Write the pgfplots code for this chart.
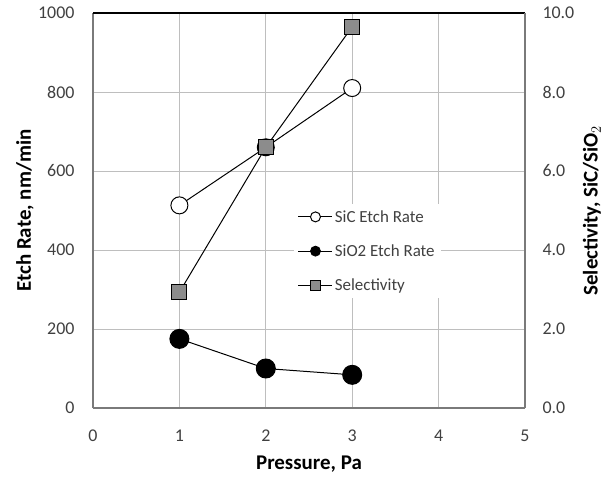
\documentclass[border=0pt]{standalone}
\usepackage{fontspec}
\setmainfont{Carlito}
\usepackage{pgfplots}
\pgfplotsset{compat=1.18}

\definecolor{tickgray}{HTML}{404040}
\definecolor{gridgray}{HTML}{BEBEBE}
\definecolor{framegray}{HTML}{7A7A7A}
\definecolor{selgray}{HTML}{8C8C8C}

\pgfplotsset{
  common/.style={
    width=432bp, height=395bp, scale only axis,
    xmin=0, xmax=5,
    /pgf/number format/assume math mode=true,
    /pgf/number format/1000 sep={},
    tick label style={font=\fontsize{18}{20}\selectfont, text=tickgray},
    label style={font=\bfseries\fontsize{21}{24}\selectfont},
    tick style={draw=none},
  },
  sic/.style={black, line width=1pt, mark=*, mark size=8.5bp, mark options={fill=white, line width=1pt}},
  sio/.style={black, line width=1pt, mark=*, mark size=9.5bp, mark options={fill=black}},
  sel/.style={black, line width=1pt, mark=square*, mark size=7.5bp, mark options={fill=selgray, line width=1pt}},
}

\begin{document}
\begin{tikzpicture}
\begin{axis}[common, name=main,
  ymin=0, ymax=1000,
  xtick={0,1,2,3,4,5}, ytick={0,200,400,600,800,1000},
  axis x line*=bottom, axis y line*=left,
  axis line style={framegray, line width=2pt, -},
  grid=major, grid style={gridgray, line width=0.8pt},
  xticklabel style={yshift=-18bp},
  yticklabel style={xshift=-15bp},
  xlabel={Pressure, Pa}, ylabel={Etch Rate, nm/min},
  xlabel style={at={(axis description cs:0.5,0)}, anchor=center, yshift=-56bp},
  ylabel style={at={(axis description cs:0,0.5)}, anchor=center, yshift=68bp},
]
\addplot[sic] coordinates {(1,513) (2,660) (3,810)};
\addplot[sio] coordinates {(1,175) (2,100) (3,84)};
\end{axis}
\begin{axis}[common,
  ymin=0, ymax=10,
  ytick={0,2,4,6,8,10},
  yticklabel style={xshift=14bp, /pgf/number format/fixed, /pgf/number format/fixed zerofill, /pgf/number format/precision=1},
  axis y line*=right, axis x line*=top,
  xtick=\empty,
  y axis line style={framegray, line width=2pt, -},
  x axis line style={black, line width=2pt, -},
  ylabel={Selectivity, SiC/SiO$_2$},
  ylabel style={at={(axis description cs:1,0.5)}, anchor=center, yshift=-67bp},
  legend style={draw=none, fill=white, at={(0.465,0.278)}, anchor=south west,
    font=\fontsize{17}{19}\selectfont, text=tickgray, row sep=17bp, inner sep=4bp},
  legend cell align=left,
  legend image code/.code={\draw[mark repeat=2, mark phase=2, mark size=5bp, line width=0.8pt] plot coordinates {(0bp,0bp) (17bp,0bp) (34bp,0bp)};},
]
\addlegendimage{sic}
\addlegendentry{SiC Etch Rate}
\addlegendimage{sio}
\addlegendentry{SiO2 Etch Rate}
\addplot[sel] coordinates {(1,2.93) (2,6.6) (3,9.65)};
\addlegendentry{Selectivity}
\end{axis}
\path ([xshift=-93bp,yshift=-71bp]main.south west) rectangle ([xshift=87bp,yshift=13bp]main.north east);
\end{tikzpicture}
\end{document}
